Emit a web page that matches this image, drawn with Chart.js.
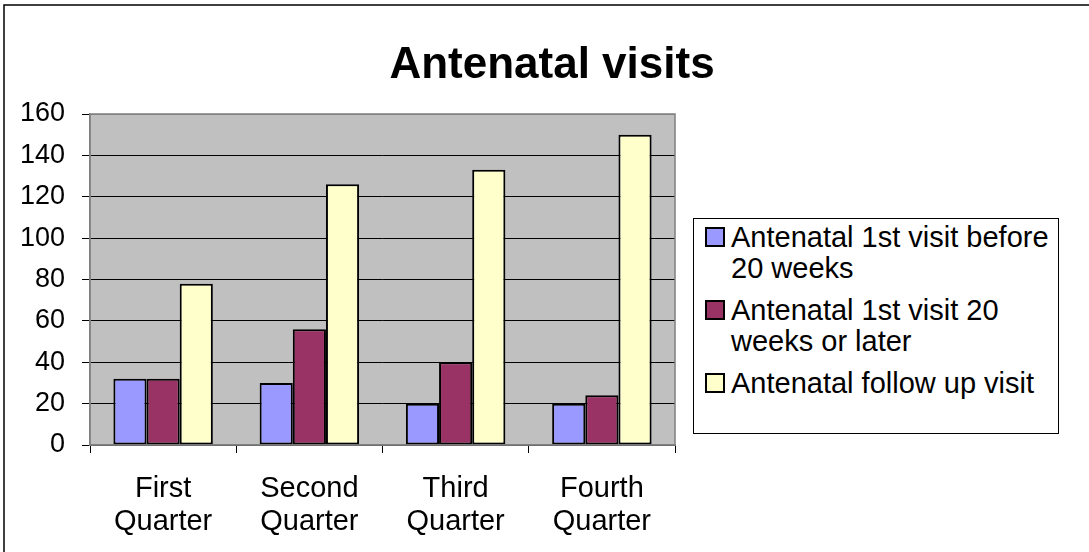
<!DOCTYPE html>
<html>
<head>
<meta charset="utf-8">
<script src="https://cdn.jsdelivr.net/npm/chart.js@4"></script>
<style>
  body { margin: 0; background: #fff; }
  #wrap { position: relative; width: 1089px; height: 552px; font-family: Arial, "Liberation Sans", sans-serif; }
  #legend {
    position: absolute; left: 693px; top: 218px; width: 366px; height: 216px;
    border: 1px solid #000; box-sizing: border-box; background: #fff;
    padding: 3px 0 0 11px;
  }
  .item { display: flex; align-items: flex-start; margin-bottom: 11px; }
  .sw { width: 16px; height: 16px; border: 2px solid #000; margin-top: 5px; margin-right: 6px; flex: none; }
  .txt { font-size: 29px; line-height: 31px; color: #000; white-space: nowrap; }
</style>
</head>
<body>
<div id="wrap">
  <canvas id="chart" width="1089" height="552"></canvas>
  <div id="legend"></div>
</div>
<script>
const categories = [["First", "Quarter"], ["Second", "Quarter"], ["Third", "Quarter"], ["Fourth", "Quarter"]];
const seriesNames = [
  ["Antenatal 1st visit before", "20 weeks"],
  ["Antenatal 1st visit 20", "weeks or later"],
  ["Antenatal follow up visit"]
];
const beforeWeek20 = [32, 30, 20, 20];
const week20OrLater = [32, 56, 40, 24];
const followUp = [78, 126, 133, 150];
const seriesColors = ['#9999FF', '#993366', '#FFFFCC'];
const chartTitle = "Antenatal visits";

const plotBackground = {
  id: 'plotBackground',
  beforeDraw(chart) {
    const { ctx, chartArea: a } = chart;
    ctx.save();
    // outer frame (only top and left are visible in the crop)
    ctx.strokeStyle = '#000';
    ctx.lineWidth = 1.5;
    ctx.beginPath();
    ctx.moveTo(4, 552);
    ctx.lineTo(4, 5);
    ctx.lineTo(1089, 5);
    ctx.stroke();
    ctx.fillStyle = '#C0C0C0';
    ctx.fillRect(a.left, a.top, a.right - a.left, a.bottom - a.top);
    // title
    ctx.fillStyle = '#000';
    ctx.font = 'bold 44px Arial, "Liberation Sans", sans-serif';
    ctx.textAlign = 'center';
    ctx.textBaseline = 'middle';
    ctx.fillText(chartTitle, 552, 66);
    ctx.restore();
  },
  afterDatasetsDraw(chart) {
    const { ctx, chartArea: a } = chart;
    ctx.save();
    ctx.strokeStyle = '#808080';
    ctx.lineWidth = 1.5;
    ctx.strokeRect(a.left, a.top, a.right - a.left, a.bottom - a.top);
    ctx.restore();
  }
};

const datasets = [beforeWeek20, week20OrLater, followUp].map((d, i) => ({
  label: seriesNames[i].join(' '),
  data: d,
  backgroundColor: seriesColors[i],
  borderColor: '#000',
  borderWidth: 2,
  borderSkipped: false,
  categoryPercentage: 0.68,
  barPercentage: 1
}));

new Chart(document.getElementById('chart'), {
  type: 'bar',
  data: { labels: categories, datasets },
  options: {
    responsive: false,
    animation: false,
    layout: { padding: { top: 114, right: 414, bottom: 0, left: 0 } },
    plugins: {
      legend: { display: false },
      title: { display: false },
      tooltip: { enabled: false }
    },
    scales: {
      x: {
        afterFit(s) { s.height = 107; },
        grid: { drawOnChartArea: false, drawTicks: true, tickLength: 8, color: '#000', offset: true },
        border: { display: true, color: '#808080', width: 1.5 },
        ticks: {
          color: '#000',
          padding: 19,
          font: { family: 'Arial, "Liberation Sans", sans-serif', size: 29, lineHeight: 1.14 }
        }
      },
      y: {
        min: 0,
        max: 160,
        afterFit(s) { s.width = 90; },
        grid: {
          color: ctx => ctx.tick && ctx.tick.value === 160 ? '#808080' : '#000',
          tickColor: '#000',
          tickLength: 8,
          lineWidth: 1
        },
        border: { display: true, color: '#808080', width: 1.5 },
        ticks: {
          stepSize: 20,
          color: '#000',
          padding: 17,
          font: { family: 'Arial, "Liberation Sans", sans-serif', size: 27 }
        }
      }
    }
  },
  plugins: [plotBackground]
});

// legend box with wrapped labels
const legendEl = document.getElementById('legend');
seriesNames.forEach((lines, i) => {
  const item = document.createElement('div');
  item.className = 'item';
  const sw = document.createElement('div');
  sw.className = 'sw';
  sw.style.background = seriesColors[i];
  const txt = document.createElement('div');
  txt.className = 'txt';
  txt.innerHTML = lines.join('<br>');
  item.appendChild(sw);
  item.appendChild(txt);
  legendEl.appendChild(item);
});
</script>
</body>
</html>
